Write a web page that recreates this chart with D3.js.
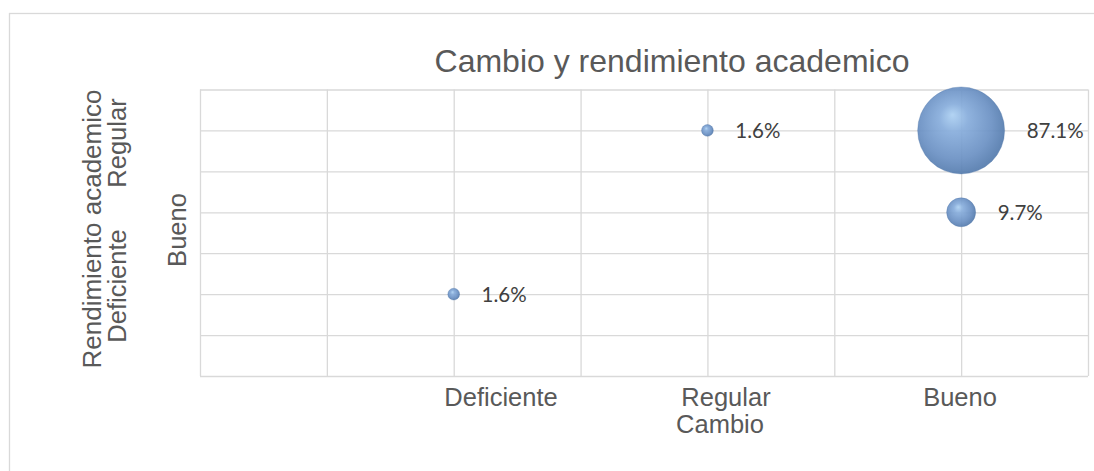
<!DOCTYPE html>
<html>
<head>
<meta charset="utf-8">
<script src="https://cdn.jsdelivr.net/npm/d3@7"></script>
<style>
body { margin: 0; background: #fff; }
text { font-family: "Liberation Sans", Arial, sans-serif; fill: #595959; }
.dataLabel { font-family: Lato, "Open Sans", sans-serif; fill: #404040; }
.grid line { stroke: #d9d9d9; stroke-width: 1.3; }
.grid path { display: none; }
</style>
</head>
<body>
<div id="chart"></div>
<script>
// data
var xVals = [2, 4, 6, 6];
var yVals = [2, 6, 6, 4];
var sizes = [1.6, 1.6, 87.1, 9.7];
var xTicks = [0, 1, 2, 3, 4, 5, 6, 7];
var yTicks = [0, 1, 2, 3, 4, 5, 6, 7];
var xTitleWords = ["Deficiente", "Regular", "Bueno"];
var yTitleWords = ["Deficiente", "Regular"];

var width = 1094;
var height = 471;
var plot = { left: 200, right: 1088, top: 89.5, bottom: 376 };

var svg = d3.select("#chart")
  .append("svg")
  .attr("width", width)
  .attr("height", height);

// outer chart border
svg.append("rect")
  .attr("x", 9.5).attr("y", 13.5)
  .attr("width", width + 20).attr("height", height + 20)
  .attr("fill", "none")
  .attr("stroke", "#d9d9d9")
  .attr("stroke-width", 1.3);

var xScale = d3.scaleLinear().domain([0, 7]).range([plot.left, plot.right]);
var yScale = d3.scaleLinear().domain([0, 7]).range([plot.bottom, plot.top]);
var rScale = d3.scaleSqrt().domain([0, 87.1]).range([0, 43.5]);

// gridlines
svg.append("g")
  .attr("class", "grid")
  .attr("transform", "translate(0," + plot.bottom + ")")
  .call(d3.axisBottom(xScale).tickValues(xTicks).tickSize(-(plot.bottom - plot.top)).tickFormat(""));
svg.append("g")
  .attr("class", "grid")
  .attr("transform", "translate(" + plot.left + ",0)")
  .call(d3.axisLeft(yScale).tickValues(yTicks).tickSize(-(plot.right - plot.left)).tickFormat(""));

// sphere look for the bubbles
var defs = svg.append("defs");
var grad = defs.append("radialGradient")
  .attr("id", "sphere")
  .attr("cx", "0.45").attr("cy", "0.45").attr("r", "0.55")
  .attr("fx", "0.4").attr("fy", "0.32");
grad.append("stop").attr("offset", "0%").attr("stop-color", "#acd0f2");
grad.append("stop").attr("offset", "30%").attr("stop-color", "#86acdb");
grad.append("stop").attr("offset", "75%").attr("stop-color", "#6a90c3");
grad.append("stop").attr("offset", "100%").attr("stop-color", "#557cae");

var points = xVals.map(function(x, i) {
  return { x: x, y: yVals[i], size: sizes[i] };
});

svg.append("g")
  .selectAll("circle")
  .data(points)
  .enter()
  .append("circle")
  .attr("cx", function(d) { return xScale(d.x); })
  .attr("cy", function(d) { return yScale(d.y); })
  .attr("r", function(d) { return rScale(d.size); })
  .attr("fill", "url(#sphere)")
  .attr("fill-opacity", 0.92)
  .attr("stroke", "#4f76a8")
  .attr("stroke-opacity", 0.4)
  .attr("stroke-width", 0.8);

svg.append("g")
  .selectAll("text")
  .data(points)
  .enter()
  .append("text")
  .attr("class", "dataLabel")
  .attr("x", function(d) { return xScale(d.x) + rScale(d.size) + 22; })
  .attr("y", function(d) { return yScale(d.y); })
  .attr("dy", "0.36em")
  .style("font-size", "20.5px")
  .text(function(d) { return d.size.toFixed(1) + "%"; });

// chart title
svg.append("text")
  .attr("x", 672)
  .attr("y", 72)
  .attr("text-anchor", "middle")
  .style("font-size", "32px")
  .text("Cambio y rendimiento academico");

// x axis title (wrapped in two lines)
var xTitleX = [501, 726, 960];
svg.append("g")
  .selectAll("text")
  .data(xTitleWords)
  .enter()
  .append("text")
  .attr("x", function(d, i) { return xTitleX[i]; })
  .attr("y", 406)
  .attr("text-anchor", "middle")
  .style("font-size", "25.5px")
  .text(function(d) { return d; });
svg.append("text")
  .attr("x", 720)
  .attr("y", 433)
  .attr("text-anchor", "middle")
  .style("font-size", "25.5px")
  .text("Cambio");

// y axis title
var yTitle = svg.append("g");
yTitle.append("text")
  .attr("transform", "translate(101,229)rotate(-90)")
  .attr("text-anchor", "middle")
  .style("font-size", "26px")
  .text("Rendimiento academico");
var yTitleY = [286, 143];
yTitle.selectAll(".yWord")
  .data(yTitleWords)
  .enter()
  .append("text")
  .attr("class", "yWord")
  .attr("transform", function(d, i) { return "translate(126," + yTitleY[i] + ")rotate(-90)"; })
  .attr("text-anchor", "middle")
  .style("font-size", "25.5px")
  .text(function(d) { return d; });
yTitle.append("text")
  .attr("transform", "translate(186,230)rotate(-90)")
  .attr("text-anchor", "middle")
  .style("font-size", "25.5px")
  .text("Bueno");
</script>
</body>
</html>
